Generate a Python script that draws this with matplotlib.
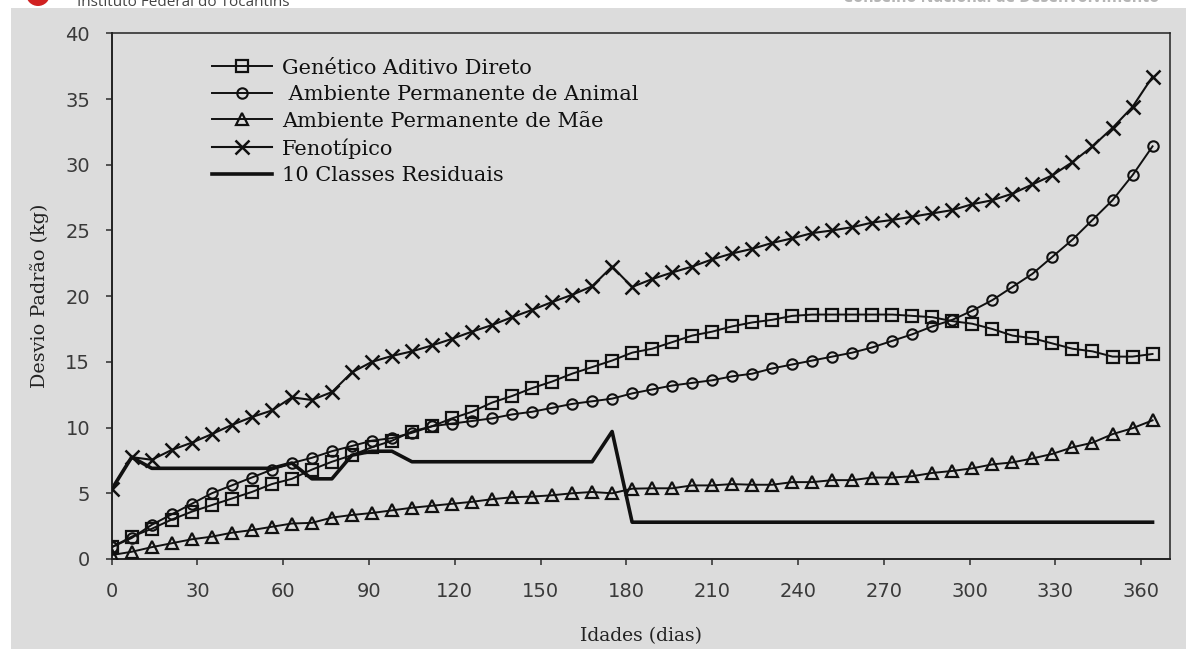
import numpy as np
import matplotlib
matplotlib.use("Agg")
import matplotlib.pyplot as plt
import matplotlib.patches as mpatches

# ─── Colors ───────────────────────────────────────────────────────────────────
BG = "#dcdcdc"
INK = "#111111"
TICK = "#3a3a3a"

W, H = 1186, 649

# ─── Data ─────────────────────────────────────────────────────────────────────
idades = [0, 7, 14, 21, 28, 35, 42, 49, 56, 63,
          70, 77, 84, 91, 98, 105, 112, 119, 126, 133,
          140, 147, 154, 161, 168, 175, 182, 189, 196, 203,
          210, 217, 224, 231, 238, 245, 252, 259, 266, 273,
          280, 287, 294, 301, 308, 315, 322, 329, 336, 343,
          350, 357, 364]

genetico = [0.9, 1.7, 2.3, 3.0, 3.6, 4.1, 4.6, 5.1, 5.7, 6.1,
            6.8, 7.4, 7.9, 8.5, 9.0, 9.7, 10.1, 10.7, 11.2, 11.9,
            12.4, 13.0, 13.5, 14.1, 14.6, 15.1, 15.7, 16.0, 16.5, 17.0,
            17.3, 17.7, 18.0, 18.2, 18.5, 18.6, 18.6, 18.6, 18.6, 18.6,
            18.5, 18.4, 18.1, 17.9, 17.5, 17.0, 16.8, 16.4, 16.0, 15.8,
            15.4, 15.4, 15.6]

amb_animal = [0.9, 1.6, 2.6, 3.4, 4.2, 5.0, 5.6, 6.2, 6.8, 7.3,
              7.7, 8.2, 8.6, 9.0, 9.2, 9.6, 10.1, 10.3, 10.5, 10.7,
              11.0, 11.2, 11.5, 11.8, 12.0, 12.2, 12.6, 12.9, 13.2, 13.4,
              13.6, 13.9, 14.1, 14.5, 14.8, 15.1, 15.4, 15.7, 16.1, 16.6,
              17.1, 17.7, 18.2, 18.9, 19.7, 20.7, 21.7, 23.0, 24.3, 25.8,
              27.3, 29.2, 31.4]

amb_mae = [0.3, 0.55, 0.9, 1.2, 1.5, 1.7, 2.0, 2.2, 2.45, 2.7,
           2.75, 3.15, 3.35, 3.5, 3.7, 3.9, 4.05, 4.2, 4.35, 4.55,
           4.7, 4.75, 4.85, 5.0, 5.1, 5.0, 5.35, 5.38, 5.38, 5.6,
           5.6, 5.7, 5.65, 5.65, 5.85, 5.85, 6.0, 6.0, 6.2, 6.2,
           6.3, 6.55, 6.7, 6.9, 7.2, 7.35, 7.65, 8.0, 8.5, 8.85,
           9.5, 9.95, 10.55]

fenotipico = [5.3, 7.75, 7.55, 8.3, 8.85, 9.5, 10.2, 10.8, 11.3, 12.3,
              12.1, 12.7, 14.2, 15.0, 15.45, 15.8, 16.25, 16.75, 17.3, 17.8,
              18.4, 18.95, 19.55, 20.1, 20.75, 22.25, 20.7, 21.3, 21.8, 22.25,
              22.8, 23.25, 23.6, 24.05, 24.4, 24.8, 25.0, 25.25, 25.6, 25.8,
              26.05, 26.3, 26.55, 27.0, 27.3, 27.8, 28.5, 29.2, 30.2, 31.4,
              32.8, 34.4, 36.7]

residual = [5.3, 7.75, 6.9, 6.9, 6.9, 6.9, 6.9, 6.9, 6.9, 7.3,
            6.1, 6.1, 7.9, 8.2, 8.2, 7.4, 7.4, 7.4, 7.4, 7.4,
            7.4, 7.4, 7.4, 7.4, 7.4, 9.7, 2.8, 2.8, 2.8, 2.8,
            2.8, 2.8, 2.8, 2.8, 2.8, 2.8, 2.8, 2.8, 2.8, 2.8,
            2.8, 2.8, 2.8, 2.8, 2.8, 2.8, 2.8, 2.8, 2.8, 2.8,
            2.8, 2.8, 2.8]

labels = ["Genético Aditivo Direto", " Ambiente Permanente de Animal",
          "Ambiente Permanente de Mãe", "Fenotípico", "10 Classes Residuais"]
x_ticks = [0, 30, 60, 90, 120, 150, 180, 210, 240, 270, 300, 330, 360]
y_ticks = [0, 5, 10, 15, 20, 25, 30, 35, 40]

# ─── Figure ───────────────────────────────────────────────────────────────────
fig = plt.figure(figsize=(W / 100, H / 100), dpi=100, facecolor="white")

# scanned page background (gray) with white margin at top/left
fig.add_artist(mpatches.Rectangle((11 / W, 0), 1 - 11 / W, 1 - 8 / H,
                                  transform=fig.transFigure, facecolor=BG,
                                  edgecolor="none", zorder=-1))
# cropped page header remnants
fig.add_artist(mpatches.Ellipse((38 / W, 1 + 6 / H), 24 / W, 24 / H,
                                transform=fig.transFigure, facecolor="#d02020",
                                edgecolor="none", zorder=-2))
fig.text(77 / W, 1 - 6 / H, "Instituto Federal do Tocantins", fontsize=11,
         family="Open Sans", color="#444444", va="baseline", ha="left")
fig.text(843 / W, 1 - 2 / H, "Conselho Nacional de Desenvolvimento", fontsize=11.5,
         family="Open Sans", fontweight="bold", color="#b5b5b5",
         va="baseline", ha="left")

ax = fig.add_axes([111.7 / W, 1 - 559 / H, 1058 / W, 525.7 / H])
ax.set_facecolor(BG)

ax.plot(idades, genetico, color=INK, linewidth=1.4, marker="s", markersize=8,
        markerfacecolor="none", markeredgewidth=1.6, markeredgecolor=INK,
        label=labels[0], zorder=3)
ax.plot(idades, amb_animal, color=INK, linewidth=1.4, marker="o", markersize=7.5,
        markerfacecolor="none", markeredgewidth=1.5, markeredgecolor=INK,
        label=labels[1], zorder=3)
ax.plot(idades, amb_mae, color=INK, linewidth=1.4, marker="^", markersize=8.5,
        markerfacecolor="none", markeredgewidth=1.6, markeredgecolor=INK,
        label=labels[2], zorder=3)
ax.plot(idades, fenotipico, color=INK, linewidth=1.5, marker="x", markersize=10,
        markeredgewidth=1.8, markeredgecolor=INK, label=labels[3], zorder=3)
ax.plot(idades, residual, color=INK, linewidth=2.6, label=labels[4], zorder=2)

ax.set_xlim(0, 370)
ax.set_ylim(0, 40)
ax.set_xticks(x_ticks)
ax.set_yticks(y_ticks)
ax.tick_params(direction="out", length=4.5, width=1.2, color=TICK,
               labelsize=14, labelcolor=TICK)
ax.tick_params(axis="x", pad=12)
ax.tick_params(axis="y", pad=11)
for lab in ax.get_xticklabels() + ax.get_yticklabels():
    lab.set_family("DejaVu Sans")

for name, spine in ax.spines.items():
    spine.set_edgecolor("#222222")
    spine.set_linewidth(1.4 if name in ("left", "bottom") else 1.1)

ax.set_xlabel("Idades (dias)", family="DejaVu Serif", fontsize=13.5,
              color="#222222", labelpad=19)
ax.set_ylabel("Desvio Padrão (kg)", family="DejaVu Serif", fontsize=13.8,
              color="#222222", labelpad=12)

ax.legend(loc="upper left", bbox_to_anchor=(0.0948, 0.952), frameon=False,
          borderpad=0, borderaxespad=0, handlelength=2.9, handletextpad=0.45,
          labelspacing=0.36, prop=dict(family="DejaVu Serif", size=15),
          labelcolor=INK)

fig.savefig("out.png", dpi=100, facecolor="white")
